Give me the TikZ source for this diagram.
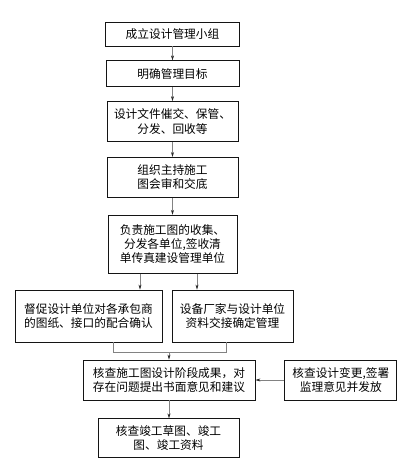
\documentclass[tikz,border=0pt]{standalone}
\usepackage{fontspec}
\newfontfamily\cjk{Noto Sans CJK SC}
\usetikzlibrary{arrows.meta, positioning, calc}
\definecolor{colBorder}{RGB}{20,20,20}
\definecolor{colLine}{RGB}{130,130,130}
\definecolor{colArrow}{RGB}{40,40,40}
\tikzset{
  box/.style={
    rectangle, draw=colBorder, line width=0.8pt,
    align=center, inner sep=1pt,
    font=\cjk\fontsize{11.7}{14.2}\selectfont
  },
  line/.style={draw=colLine, line width=0.6pt},
  arr/.style={
    line, -{Stealth[length=5pt, width=3pt, color=colArrow]}
  }
}

\begin{document}
\begin{tikzpicture}[x=1pt, y=1pt]

  \useasboundingbox (0,0) rectangle (411,-472);

  % main column
  \node[box, minimum width=134pt, minimum height=24pt] (group) at (172.5,-34) {成立设计管理小组};
  \node[box, minimum width=133pt, minimum height=26pt, below=14pt of group] (goal) {明确管理目标};
  \node[box, minimum width=131pt, minimum height=40pt, below=14pt of goal] (docs) {设计文件催交、保管、\\分发、回收等};
  \node[box, minimum width=131pt, minimum height=40pt, below=15pt of docs] (review) {组织主持施工\\图会审和交底};
  \node[box, minimum width=129pt, minimum height=58pt, below=17pt of review] (collect) {负责施工图的收集、\\分发各单位,签收清\\单传真建设管理单位};

  % two branches
  \node[box, minimum width=147pt, minimum height=52pt] (confirm) at (88.5,-316) {督促设计单位对各承包商\\的图纸、接口的配合确认};
  \node[box, minimum width=121pt, minimum height=52pt] (vendor) at (232.5,-316) {设备厂家与设计单位\\资料交接确定管理};

  % checking
  \node[box, minimum width=172pt, minimum height=40pt] (check) at (169,-380) {核查施工图设计阶段成果，对\\存在问题提出书面意见和建议};
  \node[box, minimum width=112pt, minimum height=40pt, right=29pt of check] (change) {核查设计变更,签署\\监理意见并发放};
  \node[box, minimum width=141pt, minimum height=39pt, below=18pt of check, xshift=-0.5pt] (final) {核查竣工草图、竣工\\图、竣工资料};

  % arrows down the column
  \draw[arr] (group) -- (goal);
  \draw[arr] (goal) -- (docs);
  \draw[arr] (docs) -- (review);
  \draw[arr] (review) -- (collect);
  \draw[arr] ([xshift=-32.5pt]collect.south) -- ([xshift=-32.5pt]collect.south |- confirm.north);
  \draw[arr] ([xshift=24.5pt]collect.south) -- ([xshift=24.5pt]collect.south |- vendor.north);

  % merge into check
  \coordinate (merge) at ([yshift=-10pt]confirm.south -| check.north);
  \draw[line] ([xshift=24.5pt]confirm.south) |- (merge) -| ([xshift=-6.5pt]vendor.south);
  \draw[arr] (merge) -- (check);
  \draw[arr] (change) -- (check);
  \draw[arr] (check.south) -- (check.south |- final.north);

\end{tikzpicture}
\end{document}
